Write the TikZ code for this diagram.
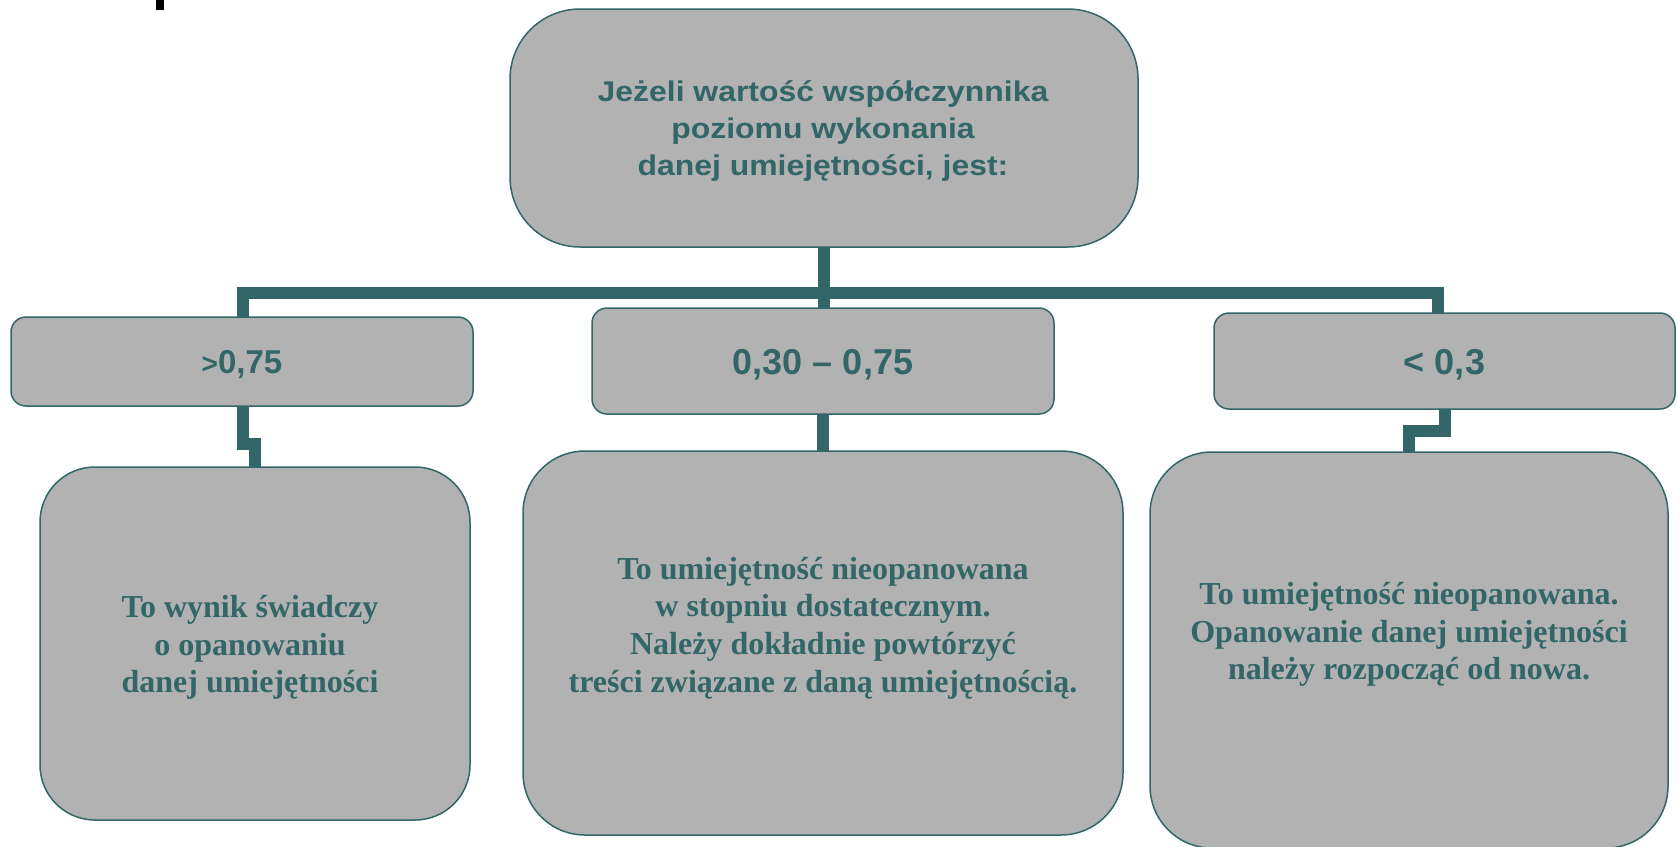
\documentclass[tikz,border=0pt]{standalone}
\usepackage{fontspec}
\setmainfont{Liberation Sans}
\newfontfamily\topfont{Liberation Sans}[FakeStretch=1.12]
\newfontfamily\sansfam{Liberation Sans}
\newfontfamily\serfam{Liberation Serif}
\usetikzlibrary{backgrounds}
\definecolor{teal}{HTML}{336666}
\definecolor{boxgray}{HTML}{B2B2B2}
\tikzset{
  boxshape/.style={draw=teal, line width=1.5pt, fill=boxgray, inner sep=0pt, outer sep=0pt,
    text=teal, align=center},
  conn/.style={draw=teal, line width=12pt, line join=miter, line cap=butt},
  toptext/.style={text=teal, align=center, inner sep=0pt, font=\topfont\bfseries\fontsize{28.5}{37}\selectfont},
  sertext/.style={text=teal, align=center, inner sep=0pt, font=\serfam\bfseries\fontsize{32}{37.7}\selectfont},
  rangetext/.style={font=\sansfam\bfseries\fontsize{36}{40}\selectfont, text height=26pt, text depth=0pt}
}
\begin{document}
\begin{tikzpicture}[x=1pt,y=-1pt]
\useasboundingbox (0,0) rectangle (1677,846);
\fill[black] (156,0) rectangle (164,10);

% boxes
\node[boxshape, minimum width=628pt, minimum height=238pt, rounded corners=70pt] (top) at (824,128) {};
\node[boxshape, minimum width=462pt, minimum height=89pt, rounded corners=15pt,
  font=\sansfam\bfseries\fontsize{33}{36}\selectfont, text height=24pt, text depth=0pt] (b1) at (242,361.5) {{\fontsize{28}{30}\selectfont >}0,75};
\node[boxshape, minimum width=462pt, minimum height=106pt, rounded corners=15pt, rangetext] (b2) at (823,361) {0,30 – 0,75};
\node[boxshape, minimum width=461pt, minimum height=96pt, rounded corners=15pt, rangetext] (b3) at (1444.5,361) {< 0,3};
\node[boxshape, minimum width=430pt, minimum height=353pt, rounded corners=55pt] (b4) at (255,643.5) {};
\node[boxshape, minimum width=600pt, minimum height=384pt, rounded corners=62pt] (b5) at (823,643) {};
\node[boxshape, minimum width=518pt, minimum height=396pt, rounded corners=62pt] (b6) at (1409,650) {};

% texts
\node[toptext] (t0) at (823,131) {Jeżeli wartość współczynnika\\poziomu wykonania\\danej umiejętności, jest:};
\node[sertext] (t4) at (250,647.5) {To wynik świadczy\\o opanowaniu\\danej umiejętności};
\node[sertext] (t5) at (823,628) {To umiejętność nieopanowana\\w stopniu dostatecznym.\\Należy dokładnie powtórzyć\\treści związane z daną umiejętnością.};
\node[sertext] (t6) at (1409,634.5) {To umiejętność nieopanowana.\\Opanowanie danej umiejętności\\należy rozpocząć od nowa.};

% connectors
\coordinate (barL) at (243,293);
\coordinate (barR) at (1438,293);
\begin{scope}[on background layer]
\draw[conn] (top.south) -- (top.south |- b2.north);
\draw[conn] (b1.north -| barL) -- (barL) -- (barR) -- (b3.north -| barR);
\draw[conn] (b1.south -| barL) -- ++(0,38) -| (b4.north);
\draw[conn] (b2.south) -- (b5.north);
\draw[conn] (b3.south) -- ++(0,22) -| (b6.north);
\end{scope}
\end{tikzpicture}
\end{document}
